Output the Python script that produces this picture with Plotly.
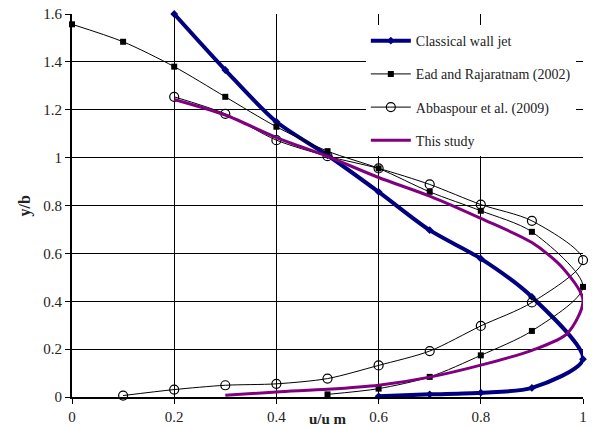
import plotly.graph_objects as go

# Classical wall jet
cwj_x = [0.2, 0.3, 0.4, 0.5, 0.6, 0.7, 0.8, 0.9, 1.0, 0.9, 0.8, 0.7, 0.6]
cwj_y = [1.6, 1.366, 1.15, 1.01, 0.857, 0.697, 0.578, 0.418, 0.158, 0.038, 0.018, 0.011, 0.003]

# Ead and Rajaratnam (2002)
ead_x = [0.0, 0.1, 0.2, 0.3, 0.4, 0.5, 0.6, 0.7, 0.8, 0.9, 1.0, 0.9, 0.8, 0.7, 0.6, 0.5]
ead_y = [1.557, 1.484, 1.38, 1.254, 1.129, 1.027, 0.955, 0.857, 0.778, 0.69, 0.46,
         0.276, 0.174, 0.084, 0.035, 0.011]

# Abbaspour et al. (2009)
abb_x = [0.2, 0.3, 0.4, 0.5, 0.6, 0.7, 0.8, 0.9, 1.0, 0.9, 0.8, 0.7, 0.6, 0.5, 0.4, 0.3, 0.2, 0.1]
abb_y = [1.254, 1.183, 1.073, 1.006, 0.955, 0.888, 0.804, 0.736, 0.572,
         0.395, 0.297, 0.192, 0.132, 0.077, 0.055, 0.049, 0.031, 0.006]

# This study
ts_x = [0.2, 0.3, 0.4, 0.5, 0.6, 0.7, 0.8, 0.9, 0.96, 1.0, 0.969, 0.9, 0.8, 0.7, 0.6, 0.5, 0.4, 0.3]
ts_y = [1.243, 1.178, 1.084, 1.005, 0.917, 0.839, 0.746, 0.645, 0.54, 0.404,
        0.265, 0.195, 0.133, 0.083, 0.049, 0.032, 0.021, 0.007]

x_ticks = [0, 0.2, 0.4, 0.6, 0.8, 1]
y_ticks = [0, 0.2, 0.4, 0.6, 0.8, 1, 1.2, 1.4, 1.6]

SERIF = "'Liberation Serif', 'Times New Roman', Times, serif"

fig = go.Figure()
fig.add_trace(go.Scatter(
    x=cwj_x, y=cwj_y, mode="lines+markers", name="Classical wall jet",
    line=dict(color="#000080", width=4, shape="spline", smoothing=0.8),
    marker=dict(symbol="diamond", size=6, color="#000080"),
    legendgroup="a", cliponaxis=False))
fig.add_trace(go.Scatter(
    x=ead_x, y=ead_y, mode="lines+markers", name="Ead and Rajaratnam (2002)",
    line=dict(color="black", width=1, shape="spline", smoothing=0.8),
    marker=dict(symbol="square", size=6, color="black"),
    legendgroup="b", cliponaxis=False))
fig.add_trace(go.Scatter(
    x=abb_x, y=abb_y, mode="lines+markers", name="Abbaspour et al. (2009)",
    line=dict(color="black", width=1, shape="spline", smoothing=0.8),
    marker=dict(symbol="circle-open", size=9, color="black", line=dict(width=1.2)),
    legendgroup="c", cliponaxis=False))
fig.add_trace(go.Scatter(
    x=ts_x, y=ts_y, mode="lines", name="This study",
    line=dict(color="#800080", width=3, shape="spline", smoothing=0.8),
    legendgroup="d"))

fig.update_layout(
    width=592, height=428,
    margin=dict(l=72, r=9, t=14, b=31),
    paper_bgcolor="white", plot_bgcolor="white",
    font=dict(family=SERIF, size=15, color="#222"),
    showlegend=True,
    legend=dict(x=0.575, y=0.971, xanchor="left", yanchor="top",
                bgcolor="white", borderwidth=0, tracegroupgap=12,
                font=dict(family=SERIF, size=14, color="#222"),
                itemwidth=40),
    xaxis=dict(range=[0, 1], tickvals=x_ticks, ticktext=[str(v) for v in x_ticks],
               showgrid=True, gridcolor="black", gridwidth=1,
               showline=True, linecolor="black", linewidth=2,
               ticks="outside", ticklen=5, tickcolor="black", zeroline=False,
               automargin=False,
               tickfont=dict(family=SERIF, size=15, color="#222")),
    yaxis=dict(range=[0, 1.6], tickvals=y_ticks, ticktext=[str(v) for v in y_ticks],
               showgrid=True, gridcolor="black", gridwidth=1,
               showline=True, linecolor="black", linewidth=2,
               ticks="outside", ticklen=5, tickcolor="black", zeroline=False,
               automargin=False,
               tickfont=dict(family=SERIF, size=15, color="#222")),
    annotations=[
        dict(text="<b>u/u m</b>", xref="paper", yref="paper", x=0.5, y=-0.058,
             xanchor="center", yanchor="middle", showarrow=False,
             font=dict(family=SERIF, size=15, color="#222")),
        dict(text="<b>y/b</b>", xref="paper", yref="paper", x=-0.092, y=0.5,
             xanchor="center", yanchor="middle", showarrow=False, textangle=-90,
             font=dict(family=SERIF, size=16, color="#222")),
    ],
)

fig.write_html("out.html")
